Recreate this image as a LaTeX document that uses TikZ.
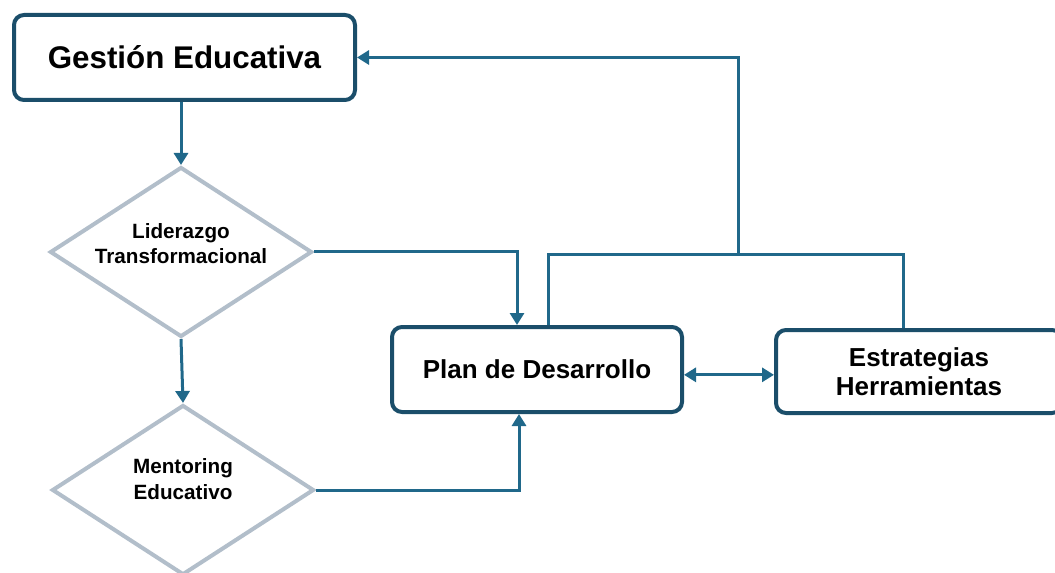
\documentclass[tikz,border=0pt]{standalone}
\usepackage{fontspec}
\setmainfont{Liberation Sans}
\usetikzlibrary{shapes.geometric,arrows.meta}

\definecolor{bordeAzul}{RGB}{27,78,106}
\definecolor{flechaAzul}{RGB}{32,104,138}
\definecolor{romboGris}{RGB}{178,190,202}

\begin{document}
\begin{tikzpicture}[x=0.75pt, y=-0.75pt, >={Triangle[length=9pt,width=10.5pt]}]
        \tikzstyle{caja} = [draw=bordeAzul, line width=3pt, rounded corners=7.5pt, fill=white, align=center, inner sep=0pt, font=\bfseries]
        \tikzstyle{rombo} = [draw=romboGris, line width=3pt, diamond, aspect=1.54, fill=white, inner sep=-3pt, minimum width=196.5pt, minimum height=127.5pt, font=\bfseries\fontsize{15.5}{19}\selectfont]
        \tikzstyle{linea} = [draw=flechaAzul, line width=2.25pt]

        \useasboundingbox (0,0) rectangle (1055,573);

        \node [caja, minimum width=255.75pt, minimum height=63.75pt, font=\bfseries\fontsize{23.5}{28}\selectfont] (gestion) at (184.5,57.5) {Gestión Educativa};
        \node [rombo] (liderazgo) at (181,252) {\raisebox{0pt}[\height][\dimexpr\depth+9pt\relax]{\begin{tabular}{@{}c@{}}
            Liderazgo\\
            Transformacional
          \end{tabular}}};
        \node [rombo] (mentoring) at (183,490) {\raisebox{0pt}[\height][\dimexpr\depth+13pt\relax]{\begin{tabular}{@{}c@{}}
            Mentoring\\
            Educativo
          \end{tabular}}};
        \node [caja, minimum width=217.5pt, minimum height=63.75pt, font=\bfseries\fontsize{19.5}{22}\selectfont] (plan) at (537,369.5) {Plan de Desarrollo};
        \node [caja, minimum width=214.5pt, minimum height=62.25pt, font=\bfseries\fontsize{19.5}{22}\selectfont] (estrategias) at (919,371.5) {Estrategias\\Herramientas};
        \coordinate (union) at (738,255);

        \draw [linea, ->] (gestion.south -| liderazgo.north) -- (liderazgo.north);
        \draw [linea, ->] (liderazgo.south) -- (mentoring.north);
        \draw [linea, ->] (liderazgo.east) -| ([xshift=-15pt]plan.north);
        \draw [linea, ->] (mentoring.east) -| ([xshift=-13.5pt]plan.south);
        \draw [linea, <->] ([yshift=-4pt]plan.east) -- ([yshift=-4pt]plan.east -| estrategias.west);
        \draw [linea] ([xshift=8.25pt]plan.north) |- (union) -| ([xshift=-12pt]estrategias.north);
        \draw [linea, ->] (union) |- (gestion.east);
    \end{tikzpicture}
\end{document}
